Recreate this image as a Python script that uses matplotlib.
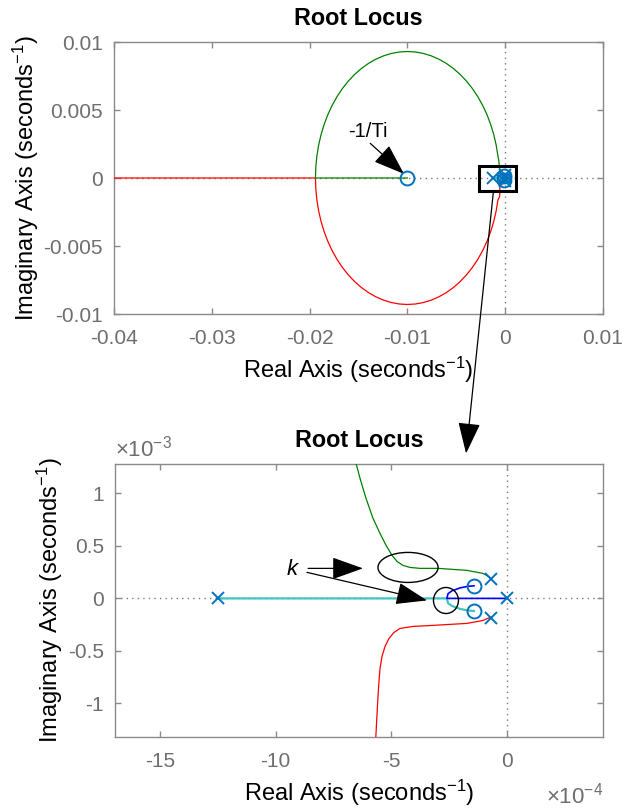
import matplotlib
matplotlib.use("Agg")
import matplotlib.pyplot as plt
from matplotlib.patches import Ellipse, Rectangle, ConnectionPatch
from matplotlib.ticker import FuncFormatter

plt.rcParams['font.family'] = ['Liberation Sans', 'DejaVu Sans']
plt.rcParams['mathtext.fontset'] = 'custom'
plt.rcParams['mathtext.rm'] = 'Liberation Sans'
plt.rcParams['mathtext.it'] = 'Liberation Sans:italic'
plt.rcParams['mathtext.default'] = 'regular'

# ---------------- data (seconds^-1) ----------------
poles_re = [0.0, -0.69e-4, -0.69e-4, -12.5e-4]
poles_im = [0.0, 0.185e-3, -0.185e-3, 0.0]
zeros_re = [-1.43e-4, -1.43e-4, -0.01]
zeros_im = [0.12e-3, -0.12e-3, 0.0]

# green branch: near-origin detail then the big circle, then real axis
green_re = [-0.69e-4, -0.735e-4, -1.038e-4, -1.729e-4, -2.983e-4, -3.761e-4, -4.194e-4,
            -4.496e-4, -4.756e-4, -4.972e-4, -5.231e-4, -5.491e-4, -5.793e-4,
            -6.096e-4, -6.355e-4, -6.528e-4,
            -0.743e-3, -0.920e-3, -1.167e-3, -1.481e-3, -1.859e-3, -2.300e-3,
            -2.799e-3, -3.353e-3, -3.958e-3, -4.608e-3, -5.300e-3, -6.027e-3,
            -6.785e-3, -7.567e-3, -8.368e-3, -9.181e-3, -10.0e-3, -10.819e-3,
            -11.632e-3, -12.433e-3, -13.215e-3, -13.973e-3, -14.700e-3, -15.392e-3,
            -16.042e-3, -16.647e-3, -17.201e-3, -17.700e-3, -18.141e-3, -18.519e-3,
            -18.833e-3, -19.080e-3, -19.257e-3, -19.364e-3, -19.4e-3,
            -10.0e-3]
green_im = [0.185e-3, 0.200e-3, 0.238e-3, 0.267e-3, 0.286e-3, 0.286e-3, 0.295e-3,
            0.314e-3, 0.352e-3, 0.410e-3, 0.505e-3, 0.619e-3, 0.762e-3,
            0.952e-3, 1.143e-3, 1.286e-3,
            1.615e-3, 2.407e-3, 3.181e-3, 3.930e-3, 4.650e-3, 5.334e-3,
            5.978e-3, 6.576e-3, 7.124e-3, 7.618e-3, 8.054e-3, 8.429e-3,
            8.739e-3, 8.983e-3, 9.159e-3, 9.265e-3, 9.3e-3, 9.265e-3,
            9.159e-3, 8.983e-3, 8.739e-3, 8.429e-3, 8.054e-3, 7.618e-3,
            7.124e-3, 6.576e-3, 5.978e-3, 5.334e-3, 4.650e-3, 3.930e-3,
            3.181e-3, 2.407e-3, 1.615e-3, 0.811e-3, 0.0,
            0.0]

# red branch: near-origin detail then lower half of the circle, then real axis to -inf
red_re = [-0.69e-4, -0.735e-4, -1.038e-4, -1.729e-4, -3.199e-4, -4.064e-4, -4.626e-4,
          -4.886e-4, -5.102e-4, -5.275e-4, -5.404e-4, -5.491e-4, -5.55e-4, -5.60e-4,
          -5.64e-4, -5.68e-4,
          -0.743e-3, -0.920e-3, -1.167e-3, -1.481e-3, -1.859e-3, -2.300e-3,
          -2.799e-3, -3.353e-3, -3.958e-3, -4.608e-3, -5.300e-3, -6.027e-3,
          -6.785e-3, -7.567e-3, -8.368e-3, -9.181e-3, -10.0e-3, -10.819e-3,
          -11.632e-3, -12.433e-3, -13.215e-3, -13.973e-3, -14.700e-3, -15.392e-3,
          -16.042e-3, -16.647e-3, -17.201e-3, -17.700e-3, -18.141e-3, -18.519e-3,
          -18.833e-3, -19.080e-3, -19.257e-3, -19.364e-3, -19.4e-3,
          -45.0e-3]
red_im = [-0.185e-3, -0.181e-3, -0.210e-3, -0.238e-3, -0.257e-3, -0.267e-3, -0.286e-3,
          -0.324e-3, -0.381e-3, -0.457e-3, -0.552e-3, -0.667e-3, -0.829e-3, -1.019e-3,
          -1.181e-3, -1.352e-3,
          -1.615e-3, -2.407e-3, -3.181e-3, -3.930e-3, -4.650e-3, -5.334e-3,
          -5.978e-3, -6.576e-3, -7.124e-3, -7.618e-3, -8.054e-3, -8.429e-3,
          -8.739e-3, -8.983e-3, -9.159e-3, -9.265e-3, -9.3e-3, -9.265e-3,
          -9.159e-3, -8.983e-3, -8.739e-3, -8.429e-3, -8.054e-3, -7.618e-3,
          -7.124e-3, -6.576e-3, -5.978e-3, -5.334e-3, -4.650e-3, -3.930e-3,
          -3.181e-3, -2.407e-3, -1.615e-3, -0.811e-3, 0.0,
          0.0]

blue_re = [0.0, -1.0e-4, -2.6e-4, -2.55e-4, -2.38e-4, -2.03e-4, -1.69e-4, -1.43e-4]
blue_im = [0.0, 0.0, 0.0, 0.045e-3, 0.072e-3, 0.10e-3, 0.115e-3, 0.12e-3]
cyan_re = [-12.5e-4, -6.0e-4, -2.6e-4, -2.55e-4, -2.38e-4, -2.03e-4, -1.69e-4, -1.43e-4]
cyan_im = [0.0, 0.0, 0.0, -0.045e-3, -0.072e-3, -0.10e-3, -0.115e-3, -0.12e-3]

top_xticks = [-0.04, -0.03, -0.02, -0.01, 0.0, 0.01]
top_yticks = [-0.01, -0.005, 0.0, 0.005, 0.01]
bot_xticks = [-15e-4, -10e-4, -5e-4, 0.0]
bot_yticks = [-1e-3, -0.5e-3, 0.0, 0.5e-3, 1e-3]

# ---------------- styling ----------------
W, H = 625, 809
fig = plt.figure(figsize=(W / 100, H / 100), dpi=100)
GRAY = '#6e6e6e'
SPINE = '#8a8a8a'
MBLUE = '#0072BD'
GREEN = '#008000'
CYAN = '#3fc4c4'
TICK_FS = 15
LAB_FS = 17
TITLE_FS = 16.8


def px_axes(l, t, r, b):
    return fig.add_axes([l / W, 1 - b / H, (r - l) / W, (b - t) / H])


def style(ax):
    for s in ax.spines.values():
        s.set_color(SPINE)
        s.set_linewidth(1.0)
    ax.tick_params(direction='in', length=4, width=1.0, color=SPINE,
                   labelcolor=GRAY, labelsize=TICK_FS, top=True, right=True)
    ax.tick_params(axis='x', pad=11)
    ax.tick_params(axis='y', pad=8)
    ax.axhline(0, color='#7a7a7a', ls=(0, (1, 3)), lw=1.0, zorder=1)
    ax.axvline(0, color='#7a7a7a', ls=(0, (1, 3)), lw=1.0, zorder=1)


def draw_locus(ax):
    lw = 0.9
    ax.plot(red_re, red_im, color='red', lw=lw, zorder=3)
    ax.plot(green_re, green_im, color=GREEN, lw=lw, zorder=3)
    ax.plot(cyan_re, cyan_im, color=CYAN, lw=1.6, zorder=3)
    ax.plot(blue_re, blue_im, color='blue', lw=1.2, zorder=3)
    ax.plot(poles_re, poles_im, ls='none', marker='x', ms=8, mew=1.4, color=MBLUE, zorder=4)
    ax.plot(zeros_re, zeros_im, ls='none', marker='o', ms=10, mew=1.4,
            mfc='none', mec=MBLUE, zorder=4)


ARROW = '-|>,head_length=1.4,head_width=0.5'

# ---------------- top axes ----------------
ax1 = px_axes(114, 42, 603, 314)
style(ax1)
draw_locus(ax1)
ax1.set_xlim(-0.04, 0.01)
ax1.set_ylim(-0.01, 0.01)
ax1.set_xticks(top_xticks)
ax1.set_yticks(top_yticks)
ax1.xaxis.set_major_formatter(FuncFormatter(lambda v, p: f"{v:g}"))
ax1.yaxis.set_major_formatter(FuncFormatter(lambda v, p: f"{v:g}"))
ax1.set_title('Root Locus', fontsize=TITLE_FS, fontweight='bold', pad=12)
ax1.set_xlabel('Real Axis (seconds$^{-1}$)', fontsize=LAB_FS, labelpad=5)
ax1.set_ylabel('Imaginary Axis (seconds$^{-1}$)', fontsize=LAB_FS, labelpad=2)

ax1.add_patch(Rectangle((-2.65e-3, -0.95e-3), 3.75e-3, 1.85e-3, fill=False,
                        ec='black', lw=2.2, zorder=5))
ax1.text(-0.0140, 3.4e-3, '-1/Ti', fontsize=14.5, ha='center', va='center')
ax1.annotate('', xy=(-0.01035, 0.3e-3), xytext=(-0.0138, 2.55e-3),
             arrowprops=dict(arrowstyle=ARROW, mutation_scale=14, color='black',
                             lw=0.9, shrinkA=0, shrinkB=0))

# ---------------- bottom axes ----------------
ax2 = px_axes(115, 464, 603, 737)
style(ax2)
draw_locus(ax2)
ax2.set_xlim(-16.95e-4, 4.15e-4)
ax2.set_ylim(-1.32e-3, 1.28e-3)
ax2.set_xticks(bot_xticks)
ax2.set_yticks(bot_yticks)
ax2.xaxis.set_major_formatter(FuncFormatter(lambda v, p: f"{v / 1e-4:g}"))
ax2.yaxis.set_major_formatter(FuncFormatter(lambda v, p: f"{v / 1e-3:g}"))
ax2.set_title('Root Locus', fontsize=TITLE_FS, fontweight='bold', pad=12)
ax2.set_xlabel('Real Axis (seconds$^{-1}$)', fontsize=LAB_FS, labelpad=5)
ax2.set_ylabel('Imaginary Axis (seconds$^{-1}$)', fontsize=LAB_FS, labelpad=2)
ax2.text(0.0, 1.01, r'$\times$10$^{-3}$', transform=ax2.transAxes, fontsize=16,
         color=GRAY, ha='left', va='bottom')
ax2.text(1.0, -0.215, r'$\times$10$^{-4}$', transform=ax2.transAxes, fontsize=16,
         color=GRAY, ha='right', va='center')

ax2.add_patch(Ellipse((-4.28e-4, 0.295e-3), 2.6e-4, 0.286e-3, fill=False,
                      ec='black', lw=1.0, zorder=5))
ax2.add_patch(Ellipse((-2.64e-4, -0.02e-3), 1.08e-4, 0.248e-3, fill=False,
                      ec='black', lw=1.0, zorder=5))
ax2.text(-9.3e-4, 0.276e-3, 'k', fontsize=16, style='italic', ha='center', va='center')
akw = dict(arrowstyle=ARROW, mutation_scale=14,
           color='black', lw=0.9, shrinkA=0, shrinkB=0)
ax2.annotate('', xy=(-6.23e-4, 0.286e-3), xytext=(-8.6e-4, 0.286e-3), arrowprops=akw)
ax2.annotate('', xy=(-3.46e-4, -0.019e-3), xytext=(-8.65e-4, 0.248e-3), arrowprops=akw)

con = ConnectionPatch(xyA=(-1.2e-3, -0.95e-3), coordsA=ax1.transData,
                      xyB=(-1.77e-4, 1.38e-3), coordsB=ax2.transData,
                      arrowstyle=ARROW, mutation_scale=14,
                      color='black', lw=0.9, shrinkA=0, shrinkB=0, zorder=10)
fig.add_artist(con)

fig.savefig('out.png', dpi=100)
